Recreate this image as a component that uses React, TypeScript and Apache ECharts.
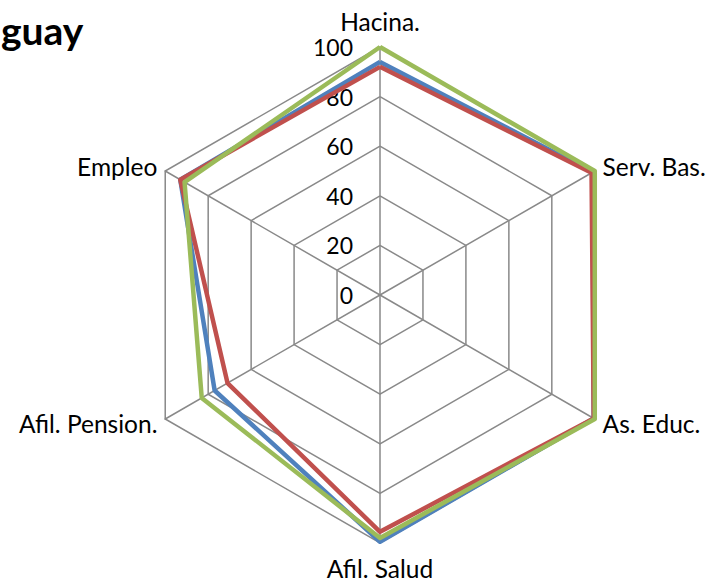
import React, { useEffect, useRef } from "react";
import * as echarts from "echarts";

const indicators = ["Hacina.", "Empleo", "Afil. Pension.", "Afil. Salud", "As. Educ.", "Serv. Bas."];
const seriesBlue = [94, 93, 77, 99.5, 99.5, 99];
const seriesRed = [92, 93, 71, 95.5, 99.5, 98.5];
const seriesGreen = [100, 91, 83, 98, 100, 100];
const tickValues = [0, 20, 40, 60, 80, 100];
const titleText = "guay";

const FONT = "Lato, 'Open Sans', sans-serif";

export default function App() {
  const ref = useRef<HTMLDivElement>(null);
  useEffect(() => {
    if (!ref.current) return;
    const chart = echarts.init(ref.current, null, { renderer: "svg" });
    const nameStyle = { color: "#000", fontSize: 24.5, fontFamily: FONT, lineHeight: 22 };
    chart.setOption({
      animation: false,
      backgroundColor: "#ffffff",
      title: {
        text: titleText,
        left: 1,
        top: 10,
        padding: 0,
        textStyle: { fontFamily: FONT, fontSize: 39, fontWeight: "bold", color: "#000" },
      },
      grid: { left: 380, top: 47, height: 248, width: 100 },
      xAxis: { type: "value", show: false, min: 0, max: 1 },
      yAxis: {
        type: "value",
        min: tickValues[0],
        max: tickValues[tickValues.length - 1],
        interval: tickValues[1] - tickValues[0],
        axisLine: { show: false },
        axisTick: { show: false },
        splitLine: { show: false },
        axisLabel: { margin: 27, fontSize: 23, fontFamily: FONT, color: "#000" },
      },
      radar: {
        center: [380, 295],
        radius: 248,
        startAngle: 90,
        splitNumber: 5,
        shape: "polygon",
        nameGap: 9,
        indicator: indicators.map((name) => ({ name, min: 0, max: 100 })),
        axisName: {
          ...nameStyle,
          formatter: (name: string) => {
            const i = indicators.indexOf(name);
            if (i === 0) return `{top|${name}}`;
            if (i === 3) return `{bot|${name}}`;
            return `{side|${name}}`;
          },
          rich: {
            top: { ...nameStyle, padding: [0, 0, 12, 0] },
            bot: { ...nameStyle, padding: [10, 0, 0, 0] },
            side: { ...nameStyle },
          },
        },
        axisLine: { lineStyle: { color: "#898989", width: 1.5 } },
        splitLine: { lineStyle: { color: "#898989", width: 1.5 } },
        splitArea: { show: false },
        axisLabel: { show: false },
        axisTick: { show: false },
      },
      series: [
        {
          type: "radar",
          symbol: "none",
          data: [
            { value: seriesBlue, lineStyle: { color: "#4F81BD", width: 4.5 }, itemStyle: { color: "#4F81BD" } },
            { value: seriesRed, lineStyle: { color: "#C0504D", width: 4.5 }, itemStyle: { color: "#C0504D" } },
            { value: seriesGreen, lineStyle: { color: "#9BBB59", width: 4.5 }, itemStyle: { color: "#9BBB59" } },
          ],
        },
      ],
    });
    return () => chart.dispose();
  }, []);
  return (
    <div
      ref={ref}
      style={{ position: "fixed", left: 0, top: 0, width: 709, height: 583 }}
    />
  );
}
